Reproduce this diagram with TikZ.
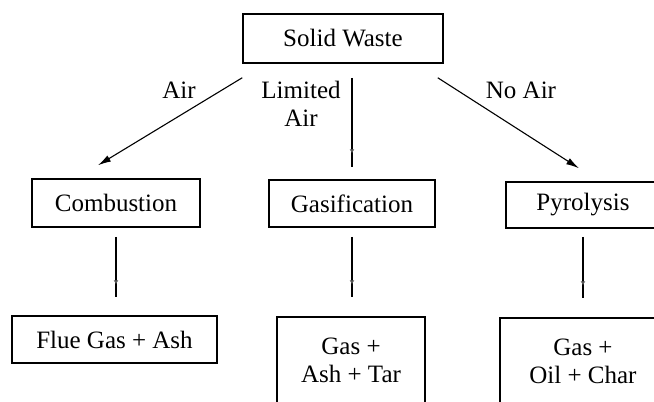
\documentclass[tikz,border=0pt]{standalone}
\usepackage{fontspec}
\setmainfont{Liberation Serif}
\usetikzlibrary{arrows.meta,calc,decorations.markings}
\tikzset{>=Latex,every node/.style={font=\fontsize{25}{28}\selectfont},box/.style={draw,line width=1.5pt,inner sep=0pt,align=center},flow/.style={line width=1.1pt,-{Latex[length=13pt,width=7pt]}},link/.style={line width=1.1pt,postaction={decorate},decoration={markings,mark=at position -#1 with {\arrow[black!65]{Latex[length=4pt,width=5pt]}}}}}

\begin{document}
\begin{tikzpicture}[x=1pt,y=-1pt]
\useasboundingbox (0,0) rectangle (654,402);\clip (0,0) rectangle (654,402);
\node[box,minimum width=200pt,minimum height=49pt] (sw) at (343,38.5){Solid Waste};
\node[box,minimum width=168pt,minimum height=48pt] (comb) at (116,203){Combustion};\node[box,minimum width=166pt,minimum height=47pt] (gasi) at (352,203.5){Gasification};\node[box,minimum width=154pt,minimum height=46pt] (pyro) at (583,205){Pyrolysis};
\node[box,minimum width=205pt,minimum height=47pt] (flue) at (114.5,339.5){Flue Gas + Ash};\node[box,minimum width=148pt,minimum height=87pt] (gat) at (351,360.5){Gas +\\Ash + Tar};\node[box,minimum width=166pt,minimum height=87pt] (goc) at (583,361.5){Gas +\\Oil + Char};
\node (air) at (179,90){Air};\node[align=center] (lim) at (301,104){Limited\\Air};\node (noair) at (521,90){No Air};
\draw[flow] ([yshift=-14pt]sw.south west)--([xshift=-18pt,yshift=13pt]comb.north);\draw[link=26pt,shorten <=14pt,shorten >=12pt] (gasi.north |- sw.south)--(gasi.north);\draw[flow] ([xshift=-6pt,yshift=-14pt]sw.south east)--([xshift=-4pt,yshift=13pt]pyro.north);
\draw[link=31pt,shorten <=9pt,shorten >=18pt] (comb.south)--(comb.south |- flue.north);\draw[link=32pt,shorten <=9pt,shorten >=19pt] (gasi.south)--(gasi.south |- gat.north);\draw[link=32pt,shorten <=8pt,shorten >=19pt] (pyro.south)--(pyro.south |- goc.north);
\end{tikzpicture}
\end{document}
